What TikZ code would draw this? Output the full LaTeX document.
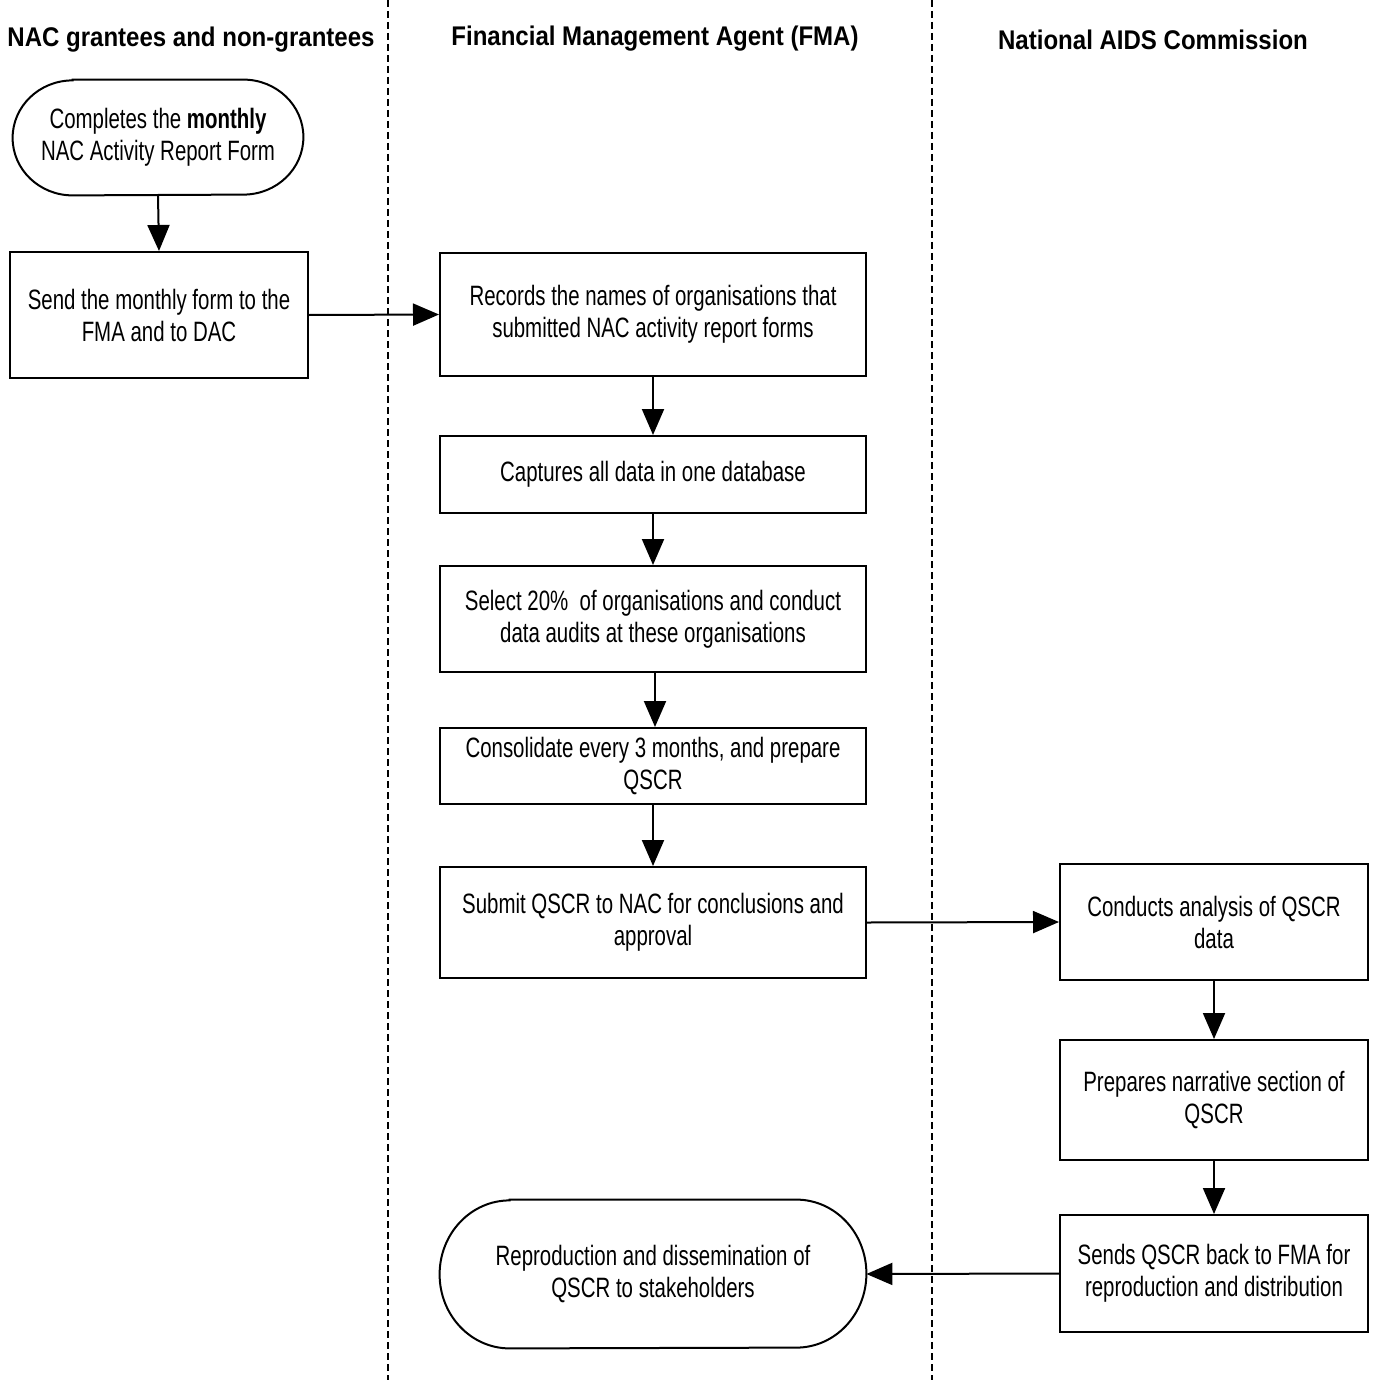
\documentclass[tikz,border=0pt]{standalone}
\usepackage{fontspec}
\setmainfont{Liberation Sans}[FakeStretch=0.73]
\newfontfamily\hdfont{Liberation Sans}[FakeStretch=0.89]
\usetikzlibrary{arrows.meta}
\begin{document}
\begin{tikzpicture}[x=0.5pt,y=-0.5pt,
  box/.style={draw, line width=1pt, align=center, inner sep=0pt, font=\fontsize{14}{16}\selectfont},
  term/.style={align=center, inner sep=0pt, font=\fontsize{14}{16}\selectfont},
  hdr/.style={font=\hdfont\bfseries\fontsize{13.5}{15}\selectfont},
  conn/.style={line width=1pt, -{Triangle[length=13pt,width=11pt]}},
  divider/.style={line width=1pt, dash pattern=on 3.5pt off 2pt}]
\useasboundingbox (0,0) rectangle (1378,1380);
% lane dividers
\coordinate (d1t) at (388,0); \coordinate (d1b) at (388,1380);
\coordinate (d2t) at (932,0); \coordinate (d2b) at (932,1380);
\draw[divider] (d1t) -- (d1b);
\draw[divider] (d2t) -- (d2b);
% headers
\node[hdr] (h1) at (191,40) {NAC grantees and non-grantees};
\node[hdr] (h2) at (655,39) {Financial Management Agent (FMA)};
\node[hdr] (h3) at (1153,40) {National AIDS Commission};
% terminal 1
\node[term, minimum width=145pt, minimum height=57.5pt] (t1) at (158,137.5) {Completes the \textbf{monthly}\\NAC Activity Report Form};
\draw[line width=1pt] ([xshift=30pt]t1.north west) -- ([xshift=-30pt]t1.north east)
  arc[start angle=90,end angle=-90,x radius=30pt,y radius=28.75pt]
  -- ([xshift=30pt]t1.south west)
  arc[start angle=270,end angle=90,x radius=30pt,y radius=28.75pt] -- cycle;
\node[box, minimum width=149pt, minimum height=63pt] (send) at (159,315) {Send the monthly form to the\\FMA and to DAC};
% FMA lane
\node[box, minimum width=213pt, minimum height=61.5pt] (rec) at (653,314.5) {Records the names of organisations that\\submitted NAC activity report forms};
\node[box, minimum width=213pt, minimum height=38.5pt] (cap) at (653,474.5) {Captures all data in one database};
\node[box, minimum width=213pt, minimum height=53pt] (sel) at (653,619) {Select 20\%\ \ of organisations and conduct\\data audits at these organisations};
\node[box, minimum width=213pt, minimum height=38pt] (con) at (653,766) {Consolidate every 3 months, and prepare\\QSCR};
\node[box, minimum width=213pt, minimum height=55.5pt] (sub) at (653,922.5) {Submit QSCR to NAC for conclusions and\\approval};
% NAC lane
\node[box, minimum width=154pt, minimum height=58pt] (ana) at (1214,922) {Conducts analysis of QSCR\\data};
\node[box, minimum width=154pt, minimum height=60pt] (nar) at (1214,1100) {Prepares narrative section of\\QSCR};
\node[box, minimum width=154pt, minimum height=58.5pt] (back) at (1214,1273.5) {Sends QSCR back to FMA for\\reproduction and distribution};
% terminal 2
\node[term, minimum width=213pt, minimum height=74pt] (t2) at (653,1274) {Reproduction and dissemination of\\QSCR to stakeholders};
\draw[line width=1pt] ([xshift=35pt]t2.north west) -- ([xshift=-35pt]t2.north east)
  arc[start angle=90,end angle=-90,x radius=35pt,y radius=37pt]
  -- ([xshift=35pt]t2.south west)
  arc[start angle=270,end angle=90,x radius=35pt,y radius=37pt] -- cycle;
% connectors
\draw[conn] (t1.south) -- (send.north);
\draw[conn] (send.east) -- (rec.west);
\draw[conn] (rec.south) -- (cap.north);
\draw[conn] (cap.south) -- (sel.north);
\draw[conn] ([xshift=1pt]sel.south) -- ([xshift=1pt]con.north);
\draw[conn] (con.south) -- (sub.north);
\draw[conn] (sub.east) -- (ana.west);
\draw[conn] (ana.south) -- (nar.north);
\draw[conn] (nar.south) -- (back.north);
\draw[conn] (back.west) -- (t2.east);
\end{tikzpicture}
\end{document}
